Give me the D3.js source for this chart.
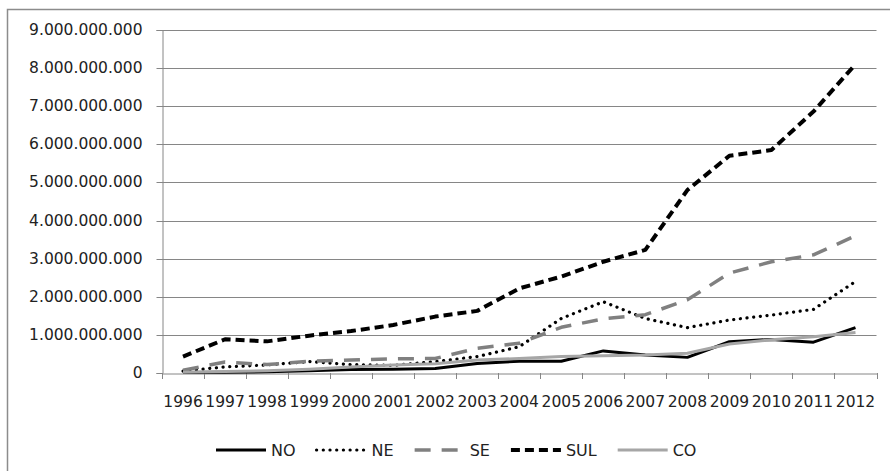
<!DOCTYPE html>
<html>
<head>
<meta charset="utf-8">
<script src="https://cdn.jsdelivr.net/npm/d3@7"></script>
<style>
  html, body { margin: 0; padding: 0; background: #fff; }
  svg { display: block; }
  text { font-family: "DejaVu Sans", sans-serif; fill: #222; }
</style>
</head>
<body>
<svg id="chart" width="890" height="471"></svg>
<script>
const years = ["1996","1997","1998","1999","2000","2001","2002","2003","2004","2005","2006","2007","2008","2009","2010","2011","2012"];
const NO  = [0.01,0.02,0.03,0.06,0.09,0.10,0.12,0.25,0.31,0.31,0.58,0.47,0.41,0.82,0.88,0.81,1.19].map(v => v*1e9);
const NE  = [0.05,0.16,0.21,0.30,0.22,0.20,0.30,0.43,0.69,1.43,1.87,1.43,1.19,1.39,1.52,1.67,2.40].map(v => v*1e9);
const SE  = [0.07,0.29,0.22,0.31,0.34,0.37,0.38,0.65,0.78,1.20,1.42,1.53,1.92,2.62,2.92,3.10,3.60].map(v => v*1e9);
const SUL = [0.43,0.885,0.83,0.98,1.10,1.26,1.48,1.63,2.22,2.53,2.92,3.23,4.80,5.70,5.85,6.86,8.10].map(v => v*1e9);
const CO  = [0.02,0.04,0.06,0.10,0.16,0.21,0.24,0.34,0.38,0.43,0.45,0.47,0.52,0.76,0.87,0.95,1.06].map(v => v*1e9);
const yTicks = [0,1e9,2e9,3e9,4e9,5e9,6e9,7e9,8e9,9e9];

const series = [
  {name: "NO",  values: NO,  color: "#000000", width: 3,   dash: null,        cap: "butt"},
  {name: "NE",  values: NE,  color: "#000000", width: 3.2, dash: "0.1,6.6",   cap: "round"},
  {name: "SE",  values: SE,  color: "#808080", width: 3.5, dash: "16,11",     cap: "butt"},
  {name: "SUL", values: SUL, color: "#000000", width: 4,   dash: "9,5",       cap: "butt"},
  {name: "CO",  values: CO,  color: "#a6a6a6", width: 3,   dash: null,        cap: "butt"}
];

const svg = d3.select("#chart");
const plotLeft = 162, plotRight = 876.5, plotTop = 30, plotBottom = 373;

// outer frame
svg.append("rect").attr("x", 7.5).attr("y", 9.5).attr("width", 900).attr("height", 480)
  .attr("fill", "none").attr("stroke", "#8c8c8c").attr("stroke-width", 1.5);

const x = d3.scaleBand().domain(years).range([plotLeft, plotRight]).padding(0);
const y = d3.scaleLinear().domain([0, 9e9]).range([plotBottom, plotTop]);

const fmt = v => d3.format(",")(v).replace(/,/g, ".");

// gridlines
svg.append("g").selectAll("line").data(yTicks.filter(d => d > 0)).join("line")
  .attr("x1", plotLeft).attr("x2", plotRight)
  .attr("y1", d => Math.round(y(d)) + 0.5).attr("y2", d => Math.round(y(d)) + 0.5)
  .attr("stroke", "#868686").attr("stroke-width", 1);

// y axis
const yAxis = svg.append("g").attr("transform", `translate(${plotLeft + 0.5},0)`)
  .call(d3.axisLeft(y).tickValues(yTicks).tickFormat(fmt).tickSize(6).tickPadding(14));
yAxis.select(".domain").attr("stroke", "#868686");
yAxis.selectAll(".tick line").attr("stroke", "#868686");
yAxis.selectAll(".tick").attr("transform", d => `translate(0,${Math.round(y(d)) + 0.5})`);
yAxis.selectAll("text").style("font-family", "DejaVu Sans").style("font-size", "15.5px").attr("fill", "#222");

// x axis
const xAxis = svg.append("g").attr("transform", `translate(0,${plotBottom + 0.5})`)
  .call(d3.axisBottom(x).tickSize(0).tickPadding(22));
xAxis.select(".domain").attr("stroke", "#868686");
xAxis.selectAll("text").style("font-family", "DejaVu Sans").style("font-size", "15.5px").attr("fill", "#222");
// ticks between categories
const bounds = years.map(d => x(d)).concat([plotRight]);
svg.append("g").selectAll("line").data(bounds).join("line")
  .attr("x1", d => Math.round(d) + 0.5).attr("x2", d => Math.round(d) + 0.5)
  .attr("y1", plotBottom).attr("y2", plotBottom + 6)
  .attr("stroke", "#868686");

// lines
const line = d3.line()
  .x((d, i) => x(years[i]) + x.bandwidth() / 2)
  .y(d => y(d));

series.forEach(s => {
  svg.append("path").datum(s.values)
    .attr("d", line)
    .attr("fill", "none")
    .attr("stroke", s.color)
    .attr("stroke-width", s.width)
    .attr("stroke-linejoin", "round")
    .attr("stroke-linecap", s.cap)
    .attr("stroke-dasharray", s.dash);
});

// legend
const legend = svg.append("g");
let lx = 216;
const ly = 450;
series.forEach(s => {
  legend.append("line")
    .attr("x1", lx).attr("x2", lx + 50).attr("y1", ly).attr("y2", ly)
    .attr("stroke", s.color).attr("stroke-width", s.width)
    .attr("stroke-linecap", s.cap).attr("stroke-dasharray", s.dash);
  const t = legend.append("text").attr("x", lx + 55).attr("y", ly).attr("dy", "0.35em")
    .style("font-size", "16px").text(s.name);
  lx += 55 + t.node().getComputedTextLength() + 21;
});
</script>
</body>
</html>
